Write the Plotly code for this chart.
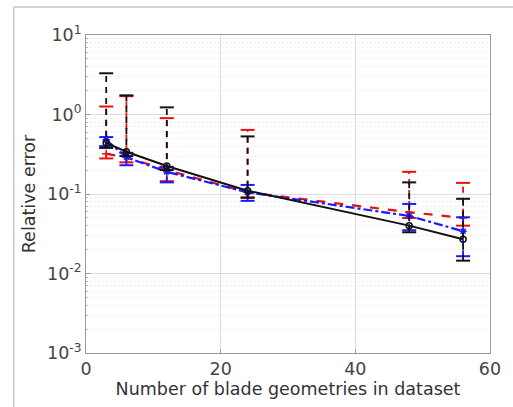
import plotly.graph_objects as go
import numpy as np

x = [3, 6, 12, 24, 48, 56]

black_y = [0.44, 0.34, 0.225, 0.11, 0.040, 0.027]
black_lo = [0.38, 0.30, 0.20, 0.09, 0.033, 0.0145]
black_hi = [3.3, 1.74, 1.23, 0.53, 0.14, 0.087]

red_y = [0.32, 0.29, 0.20, 0.105, 0.059, 0.050]
red_lo = [0.28, 0.25, 0.145, 0.09, 0.050, 0.040]
red_hi = [1.26, 1.70, 0.90, 0.64, 0.19, 0.138]

blue_y = [0.48, 0.29, 0.19, 0.105, 0.053, 0.034]
blue_lo = [0.40, 0.23, 0.14, 0.082, 0.035, 0.0165]
blue_hi = [0.52, 0.33, 0.22, 0.13, 0.075, 0.051]

y_ticks = [1e-3, 1e-2, 1e-1, 1, 10]
y_ticktext = ["10<sup>-3</sup>", "10<sup>-2</sup>", "10<sup>-1</sup>", "10<sup>0</sup>", "10<sup>1</sup>"]
x_ticks = [0, 20, 40, 60]
y_minor = [k * 10.0 ** e for e in range(-3, 1) for k in range(2, 10)]

fig = go.Figure()

def add_series(xs, ys, lo, hi, color, dash, symbol, width):
    # dashed vertical error segments
    ex, ey = [], []
    for xi, l, h in zip(xs, lo, hi):
        ex += [xi, xi, None]
        ey += [l, h, None]
    fig.add_trace(go.Scatter(x=ex, y=ey, mode="lines",
                             line=dict(color=color, width=1.8, dash="6px,5px"),
                             showlegend=False, hoverinfo="skip"))
    # caps
    fig.add_trace(go.Scatter(x=list(xs) + list(xs), y=list(lo) + list(hi), mode="markers",
                             marker=dict(symbol="line-ew", size=10,
                                         line=dict(color=color, width=2)),
                             showlegend=False, hoverinfo="skip"))
    fig.add_trace(go.Scatter(x=xs, y=ys, mode="lines+markers",
                             line=dict(color=color, width=width, dash=dash),
                             marker=dict(symbol=symbol, size=6, color=color,
                                         line=dict(color=color, width=1.5)),
                             showlegend=False))

add_series(x, red_y, red_lo, red_hi, "#e8100f", "dash", "cross-thin", 2.2)
add_series(x, blue_y, blue_lo, blue_hi, "#1a1aff", "dashdot", "asterisk", 2.2)
add_series(x, black_y, black_lo, black_hi, "#111111", "solid", "circle-open", 2.0)

fig.update_layout(
    width=513, height=407,
    margin=dict(l=86, r=18, t=35, b=54),
    paper_bgcolor="white", plot_bgcolor="white",
    font=dict(family="DejaVu Sans", size=17, color="#333333"),
    showlegend=False,
    xaxis=dict(range=[0, 60], tickvals=x_ticks, showgrid=True, gridcolor="#dddddd",
               gridwidth=1, showline=True, linecolor="#999999", linewidth=1, mirror=True,
               ticks="inside", ticklen=4, tickcolor="#999999", zeroline=False,
               title=dict(text="Number of blade geometries in dataset", standoff=2,
                          font=dict(size=17.5, color="#333333")),
               tickfont=dict(size=17.5, color="#444444")),
    yaxis=dict(type="log", range=[-3, 1], tickvals=y_ticks, ticktext=y_ticktext,
               showgrid=True, gridcolor="#dddddd", gridwidth=1,
               minor=dict(tickvals=y_minor, showgrid=True, gridcolor="#eeeeee",
                          griddash="2px,2px", ticks="inside",
                          ticklen=2, tickcolor="#bbbbbb"),
               showline=True, linecolor="#999999", linewidth=1, mirror=True,
               ticks="inside", ticklen=4, tickcolor="#999999", zeroline=False,
               title=dict(text="Relative error", standoff=6,
                          font=dict(size=17.5, color="#333333")),
               tickfont=dict(size=17.5, color="#444444")),
)

# outer frame of the figure image (top and left edges)
fig.add_shape(type="line", xref="paper", yref="paper", x0=-73 / 409, x1=1.1,
              y0=1 + 28 / 318, y1=1 + 28 / 318, line=dict(color="#a8a8a8", width=1))
fig.add_shape(type="line", xref="paper", yref="paper", x0=-73 / 409, x1=-73 / 409,
              y0=-0.3, y1=1 + 28 / 318, line=dict(color="#a8a8a8", width=1))

fig.write_html("out.html")
